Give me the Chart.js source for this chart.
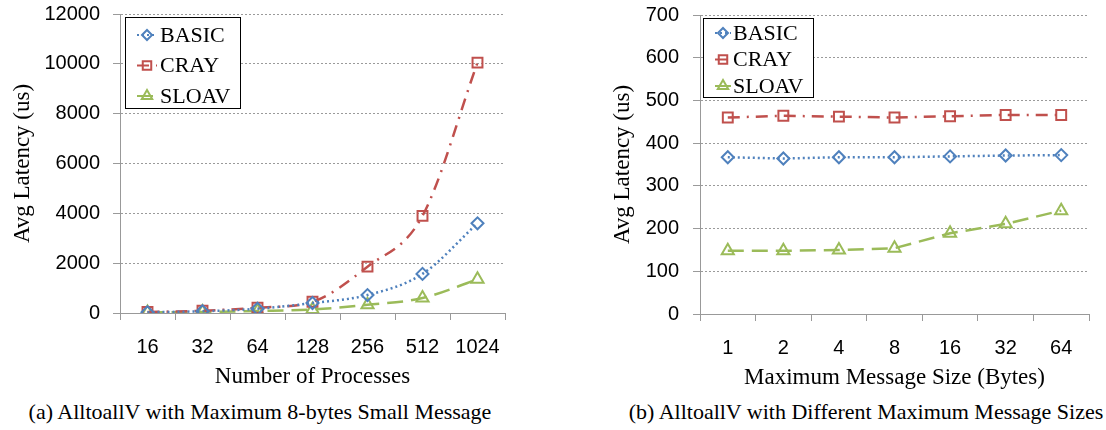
<!DOCTYPE html>
<html>
<head>
<meta charset="utf-8">
<script src="https://cdn.jsdelivr.net/npm/chart.js@4.4.0/dist/chart.umd.min.js"></script>
<style>
body{margin:0;background:#fff;width:1106px;height:430px;position:relative;overflow:hidden}
.box{position:absolute;top:0}
.cap{position:absolute;top:399px;font:22px "Liberation Serif",serif;color:#000;white-space:nowrap;transform:translateX(-50%)}
</style>
</head>
<body>
<div class="box" style="left:0"><canvas id="chartA" width="530" height="395"></canvas></div>
<div class="box" style="left:600px"><canvas id="chartB" width="506" height="396"></canvas></div>
<div class="cap" style="left:260px">(a) AlltoallV with Maximum 8-bytes Small Message</div>
<div class="cap" style="left:866px">(b) AlltoallV with Different Maximum Message Sizes</div>
<script>
const SANS="'Liberation Sans', Arial, sans-serif";
const SERIF="'Liberation Serif', 'Times New Roman', serif";

/* (a) number of processes */
const procs=["16","32","64","128","256","512","1024"];
const basicA=[30,70,170,400,720,1570,3600];
const crayA=[40,90,210,450,1860,3900,10050];
const sloavA=[20,40,80,140,330,600,1350];

/* (b) max message size */
const sizes=["1","2","4","8","16","32","64"];
const basicB=[367,364,367,367,369,371,372];
const crayB=[460,464,462,460,463,466,466];
const sloavB=[148,148,150,154,189,211,242];

const STYLE={
  BASIC:{color:"#4f81bd",dash:[2,3],point:"rectRot",r:6},
  CRAY:{color:"#c0504d",dash:[12,7,2,7],point:"rect",r:7},
  SLOAV:{color:"#9bbb59",dash:[16,8],point:"triangle",r:7}
};

function makeSet(label,values,tension){
  const s=STYLE[label];
  return {
    label:label,
    data:values,
    borderColor:s.color,
    borderWidth:2.5,
    borderDash:s.dash,
    pointStyle:s.point,
    pointRadius:s.r,
    pointBorderWidth:2,
    pointBorderColor:s.color,
    pointBackgroundColor:"rgba(255,255,255,0)",
    tension:tension,
    cubicInterpolationMode:tension?"monotone":"default"
  };
}

/* legend with a frame, drawn inside the plot */
const boxLegend={
  id:"boxLegend",
  afterDraw(chart,args,o){
    const ctx=chart.ctx;
    ctx.save();
    ctx.fillStyle="#fff";
    ctx.fillRect(o.x,o.y,o.w,o.h);
    ctx.strokeStyle="#000";
    ctx.lineWidth=1;
    ctx.strokeRect(o.x+0.5,o.y+0.5,o.w,o.h);
    chart.data.datasets.forEach((ds,i)=>{
      const y=o.y+o.first+i*o.gap;
      ctx.strokeStyle=ds.borderColor;
      ctx.lineWidth=2;
      ctx.setLineDash(ds.borderDash);
      ctx.beginPath();
      ctx.moveTo(o.x+o.l0,y);
      ctx.lineTo(o.x+o.l1,y);
      ctx.stroke();
      ctx.setLineDash([]);
      ctx.fillStyle="rgba(255,255,255,0)";
      Chart.helpers.drawPoint(ctx,{pointStyle:ds.pointStyle,radius:ds.pointRadius-1,borderWidth:1.5,rotation:0},o.x+(o.l0+o.l1)/2,y);
      ctx.fillStyle="#000";
      ctx.font="22px "+SERIF;
      ctx.textBaseline="middle";
      ctx.textAlign="left";
      ctx.fillText(ds.label,o.x+o.tx,y+1);
    });
    ctx.restore();
  }
};

function makeChart(id,labels,sets,cfg){
  return new Chart(document.getElementById(id),{
    type:"line",
    data:{labels:labels,datasets:sets},
    plugins:[boxLegend],
    options:{
      responsive:false,
      animation:false,
      layout:{padding:{top:cfg.top,right:cfg.right,left:0,bottom:0}},
      plugins:{legend:{display:false},tooltip:{enabled:false},boxLegend:cfg.legend},
      scales:{
        x:{
          offset:true,
          grid:{drawOnChartArea:false,offset:true,tickLength:7,color:"#999"},
          border:{color:"#999",width:1},
          ticks:{font:{family:SANS,size:20},color:"#000",padding:15,maxRotation:0},
          title:{display:true,text:cfg.xTitle,font:{family:SERIF,size:23},color:"#000",padding:{top:0,bottom:4}},
          afterFit:s=>{s.height=82;}
        },
        y:{
          min:0,max:cfg.max,
          ticks:{stepSize:cfg.step,font:{family:SANS,size:20},color:"#000",padding:cfg.tickPad,callback:v=>String(v)},
          grid:{color:"#9a9a9a",lineWidth:1,tickLength:7},
          border:{color:"#999",width:1,dash:[2,2]},
          title:{display:true,text:"Avg Latency (us)",font:{family:SERIF,size:23},color:"#000",padding:{top:9,bottom:0}},
          afterFit:s=>{s.width=cfg.yWidth;s.paddingTop=0;s.paddingBottom=0;}
        }
      }
    }
  });
}

makeChart("chartA",procs,[makeSet("BASIC",basicA,0.4),makeSet("CRAY",crayA,0.4),makeSet("SLOAV",sloavA,0.4)],{
  top:14,right:25,max:12000,step:2000,yWidth:120,tickPad:13,xTitle:"Number of Processes",
  legend:{x:125,y:17,w:115,h:91,first:18,gap:30.5,l0:12,l1:32,tx:35}
});

makeChart("chartB",sizes,[makeSet("BASIC",basicB,0),makeSet("CRAY",crayB,0),makeSet("SLOAV",sloavB,0)],{
  top:15,right:17,max:700,step:100,yWidth:100,tickPad:14,xTitle:"Maximum Message Size (Bytes)",
  legend:{x:103,y:18,w:110,h:79,first:15,gap:26.5,l0:12,l1:28,tx:30}
});
</script>
</body>
</html>
